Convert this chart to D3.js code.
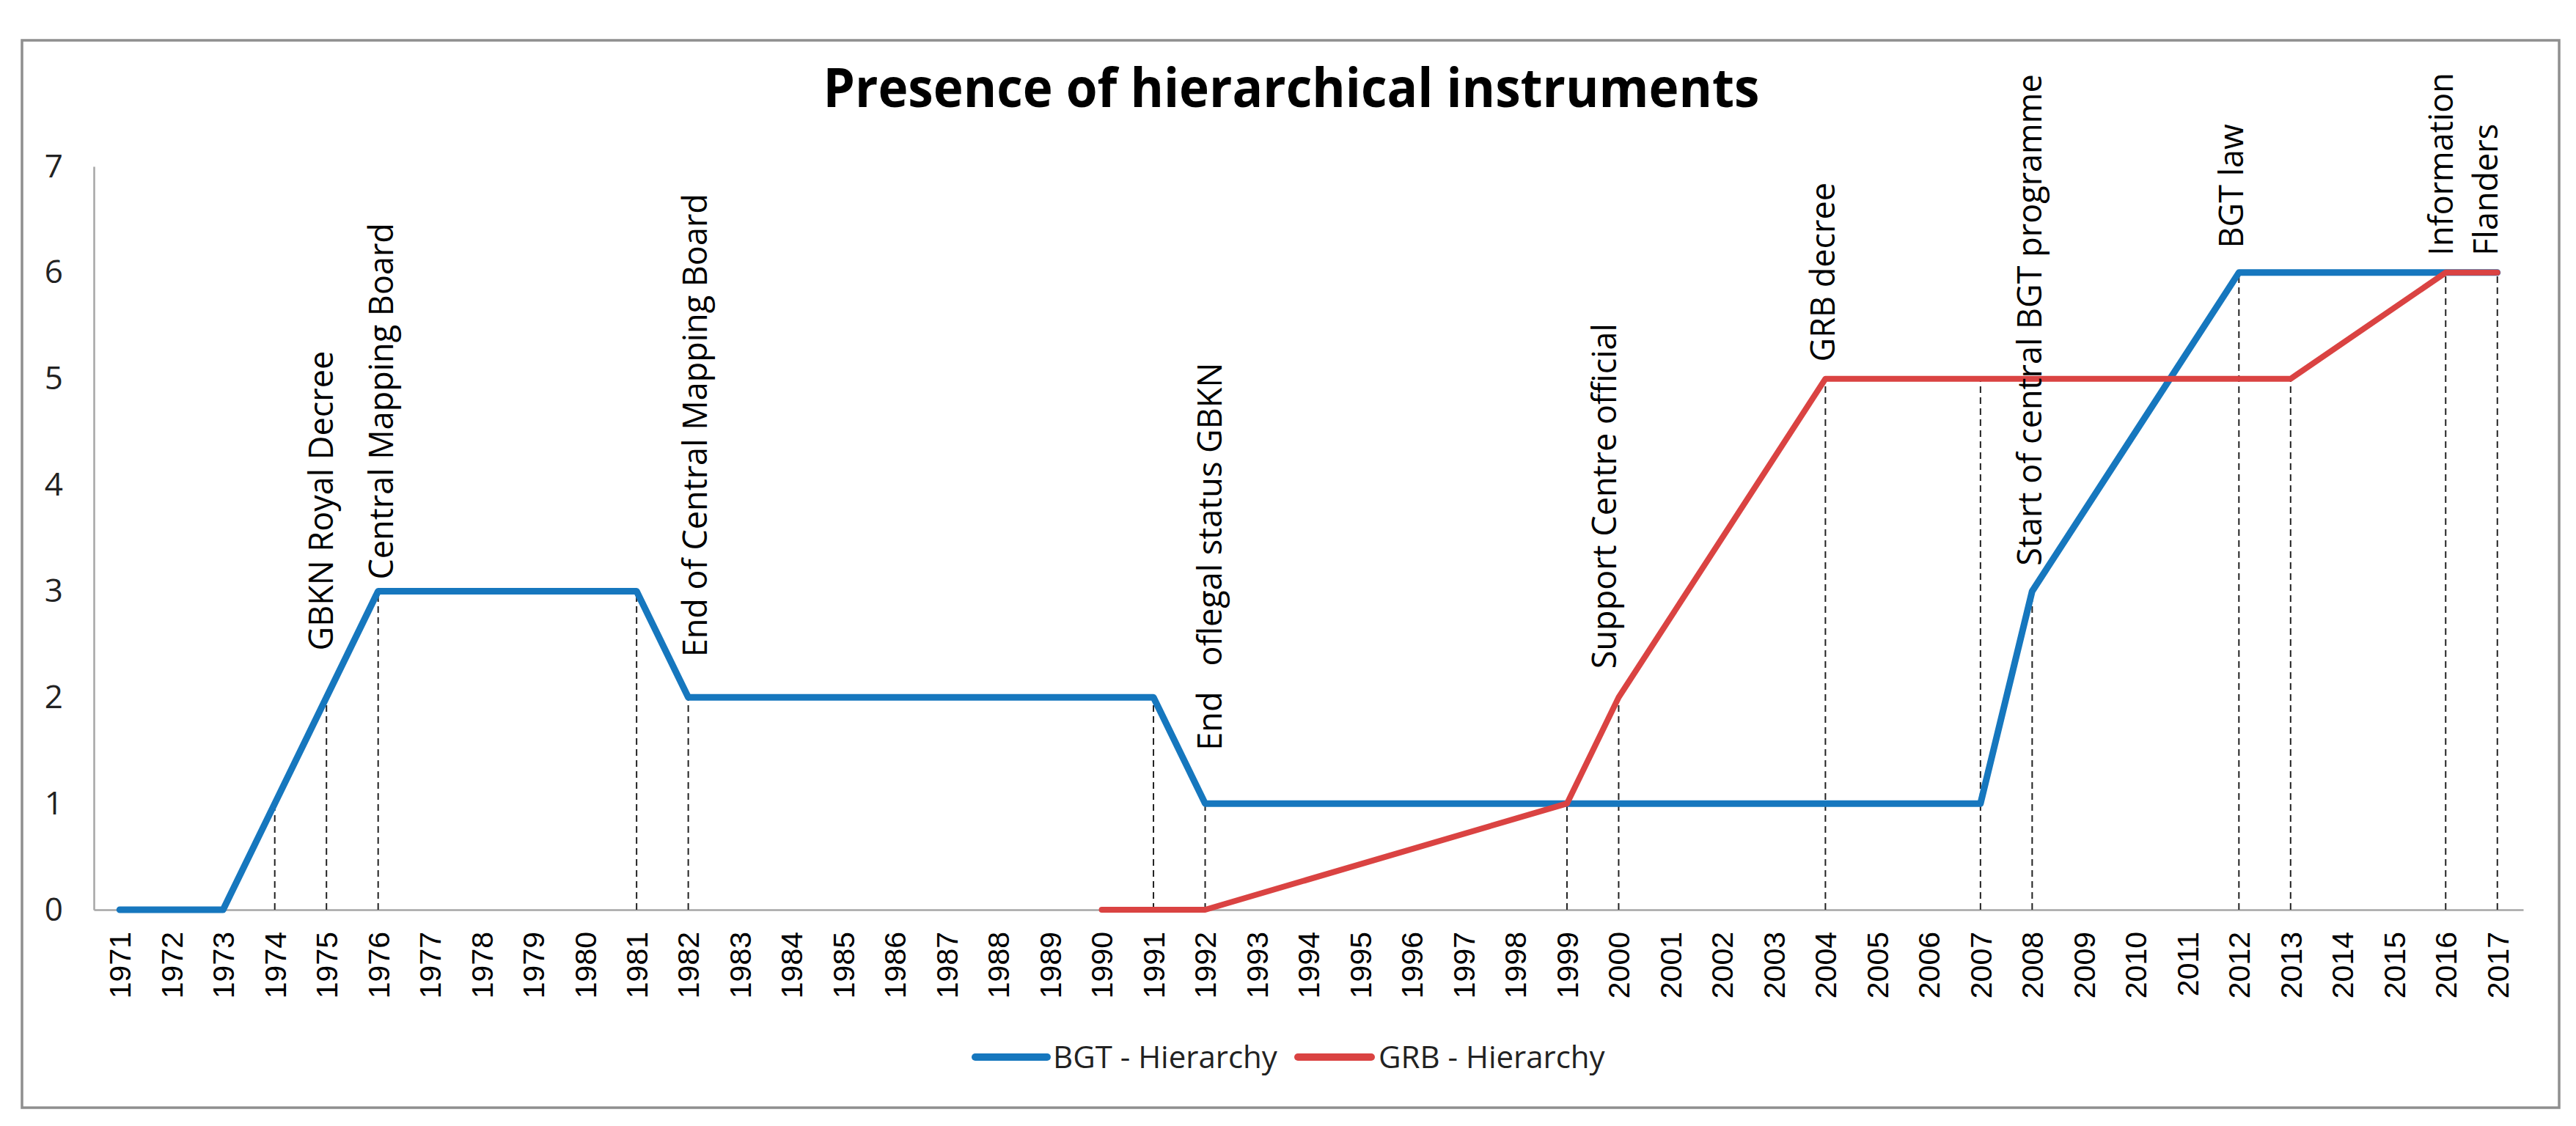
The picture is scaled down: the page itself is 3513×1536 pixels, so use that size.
<!DOCTYPE html>
<html>
<head>
<meta charset="utf-8">
<script src="https://cdn.jsdelivr.net/npm/d3@7"></script>
<style>
  html, body { margin: 0; padding: 0; background: #fff; }
  svg { display: block; }
</style>
</head>
<body>
<svg id="chart" width="3513" height="1536"></svg>
<script>
// categories
const years = [1971, 1972, 1973, 1974, 1975, 1976, 1977, 1978, 1979, 1980,
  1981, 1982, 1983, 1984, 1985, 1986, 1987, 1988, 1989, 1990,
  1991, 1992, 1993, 1994, 1995, 1996, 1997, 1998, 1999, 2000,
  2001, 2002, 2003, 2004, 2005, 2006, 2007, 2008, 2009, 2010,
  2011, 2012, 2013, 2014, 2015, 2016, 2017];

// series (null = no point, the line joins the neighbours)
const bgtValues = [0, 0, 0, 1, 2, 3, null, null, null, null,
  3, 2, null, null, null, null, null, null, null, null,
  2, 1, null, null, null, null, null, null, 1, 1,
  null, null, null, 1, null, null, 1, 3, null, null,
  null, 6, null, null, null, 6, 6];
const grbValues = [null, null, null, null, null, null, null, null, null, null,
  null, null, null, null, null, null, null, null, null, 0,
  0, 0, null, null, null, null, null, null, 1, 2,
  null, null, null, 5, null, null, 5, null, null, null,
  null, null, 5, null, null, 6, 6];

const seriesNames = ["BGT - Hierarchy", "GRB - Hierarchy"];
const yTicks = [0, 1, 2, 3, 4, 5, 6, 7];

// events written above the lines
const eventYears = [1975, 1976, 1982, 1992, 2000, 2004, 2008, 2012, 2016, 2017];
const eventLabels = ["GBKN Royal Decree", "Central Mapping Board", "End of Central Mapping Board",
  "End   oflegal status GBKN", "Support Centre official", "GRB decree",
  "Start of central BGT programme", "BGT law", "Information", "Flanders"];
// level (in axis units) where each label starts
const eventBase = [2.44, 3.11, 2.38, 1.50, 2.27, 5.16, 3.24, 6.23, 6.16, 6.16];

// layout
const plotLeft = 128, plotRight = 3441, plotTop = 227, plotBottom = 1241;
const colors = ["#1677be", "#da4342"];
const eventShift = [-7, 5, 10, 7, -19, -3, -3, -10, -6, -16];

const svg = d3.select("#chart");

svg.append("rect")
  .attr("x", 30).attr("y", 55)
  .attr("width", 3460).attr("height", 1456)
  .attr("fill", "#fff")
  .attr("stroke", "#8f8f8f")
  .attr("stroke-width", 3.5);

const x = d3.scalePoint().domain(years).range([plotLeft, plotRight]).padding(0.5);
const y = d3.scaleLinear().domain([0, 7]).range([plotBottom, plotTop]);

// title
const title = svg.append("text")
  .attr("x", 1761).attr("y", 146)
  .attr("text-anchor", "middle")
  .attr("font-family", "'Liberation Sans Narrow', 'Open Sans', sans-serif")
  .attr("font-weight", "bold")
  .attr("font-size", 74)
  .attr("fill", "#000")
  .text("Presence of hierarchical instruments");
const titleLen = title.node().getComputedTextLength();
if (Math.abs(titleLen - 1277) > 40) {
  title.attr("textLength", 1277).attr("lengthAdjust", "spacingAndGlyphs");
}

// y axis
svg.append("g")
  .attr("transform", `translate(${plotLeft},0)`)
  .call(d3.axisLeft(y).tickValues(yTicks).tickFormat(d3.format("d"))
    .tickSize(0).tickSizeOuter(0).tickPadding(42))
  .call(g => g.select(".domain").attr("stroke", "#a6a6a6").attr("stroke-width", 2.5))
  .call(g => g.selectAll("text")
    .attr("font-family", "'Open Sans', sans-serif")
    .attr("font-size", 44)
    .attr("fill", "#222"));

// x axis
svg.append("g")
  .attr("transform", `translate(0,${plotBottom})`)
  .call(d3.axisBottom(x).tickSize(0).tickSizeOuter(0))
  .call(g => g.select(".domain").attr("stroke", "#a6a6a6").attr("stroke-width", 2.5))
  .call(g => g.selectAll("text")
    .attr("transform", "rotate(-90)")
    .attr("text-anchor", "end")
    .attr("x", -30).attr("y", 0).attr("dy", "0.35em")
    .attr("font-family", "'Liberation Sans', Arial, sans-serif")
    .attr("font-size", 41)
    .attr("fill", "#000"));

// drop lines: from the axis to the highest point of the year
const dropData = years.map((yr, i) => {
  const vals = [bgtValues[i], grbValues[i]].filter(v => v !== null);
  return { year: yr, top: vals.length ? d3.max(vals) : null };
}).filter(d => d.top !== null && d.top > 0);

svg.append("g").selectAll("line")
  .data(dropData)
  .join("line")
  .attr("x1", d => x(d.year)).attr("x2", d => x(d.year))
  .attr("y1", y(0)).attr("y2", d => y(d.top))
  .attr("stroke", "#222")
  .attr("stroke-width", 2)
  .attr("stroke-dasharray", "9,6");

// lines
const line = d3.line()
  .x(d => x(d.year))
  .y(d => y(d.value));

[bgtValues, grbValues].forEach((vals, s) => {
  const pts = years.map((yr, i) => ({ year: yr, value: vals[i] })).filter(d => d.value !== null);
  svg.append("path")
    .datum(pts)
    .attr("d", line)
    .attr("fill", "none")
    .attr("stroke", colors[s])
    .attr("stroke-width", s === 0 ? 9 : 8)
    .attr("stroke-linejoin", "round")
    .attr("stroke-linecap", "round");
});

// event labels
svg.append("g").selectAll("text")
  .data(eventYears.map((yr, i) => ({ year: yr, label: eventLabels[i], base: eventBase[i], shift: eventShift[i] })))
  .join("text")
  .attr("transform", d => `translate(${x(d.year) + d.shift},${y(d.base)}) rotate(-90)`)
  .attr("text-anchor", "start")
  .attr("dy", "0.35em")
  .attr("xml:space", "preserve")
  .style("white-space", "pre")
  .attr("font-family", "'Open Sans', sans-serif")
  .attr("font-size", 45)
  .attr("fill", "#000")
  .text(d => d.label);

// legend
const legendItems = [
  { name: seriesNames[0], color: colors[0], x0: 1330, x1: 1428, tx: 1436 },
  { name: seriesNames[1], color: colors[1], x0: 1770, x1: 1870, tx: 1880 }
];
const lg = svg.append("g").selectAll("g")
  .data(legendItems)
  .join("g");
lg.append("line")
  .attr("x1", d => d.x0).attr("x2", d => d.x1)
  .attr("y1", 1442).attr("y2", 1442)
  .attr("stroke", d => d.color)
  .attr("stroke-width", 10)
  .attr("stroke-linecap", "round");
lg.append("text")
  .attr("x", d => d.tx).attr("y", 1442)
  .attr("dy", "0.36em")
  .attr("font-family", "'Open Sans', sans-serif")
  .attr("font-size", 42)
  .attr("fill", "#222")
  .text(d => d.name);
</script>
</body>
</html>
